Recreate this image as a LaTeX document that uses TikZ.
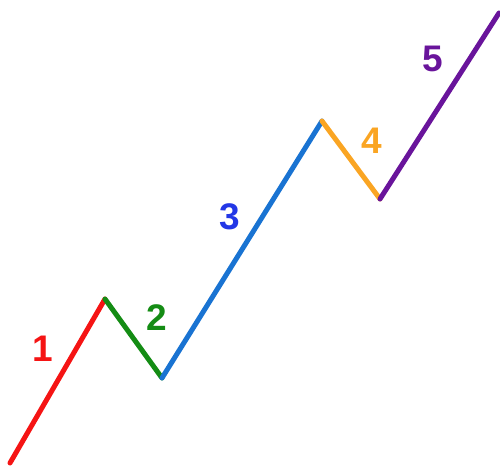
\documentclass[tikz,border=0pt]{standalone}
\usepackage{fontspec}
\setmainfont{Liberation Sans}
\definecolor{wred}{RGB}{245,20,20}
\definecolor{wgreen}{RGB}{20,140,20}
\definecolor{wblue}{RGB}{25,115,210}
\definecolor{wlblue}{RGB}{35,55,230}
\definecolor{worange}{RGB}{250,165,35}
\definecolor{wpurple}{RGB}{105,20,155}
\begin{document}
\begin{tikzpicture}[x=1pt,y=-1pt,
  seg/.style={line width=5pt,line cap=round,line join=round},
  lbl/.style={font=\fontsize{37}{40}\selectfont\bfseries,inner sep=0pt}]
\useasboundingbox (0,0) rectangle (500,466);
\coordinate (p0) at (10,463);
\coordinate (p1) at (105,299);
\coordinate (p2) at (162,378);
\coordinate (p3) at (322,121);
\coordinate (p4) at (380,199);
\coordinate (p5) at (499,13);
\draw[seg,wred] (p0) -- (p1);
\draw[seg,wgreen] (p1) -- (p2);
\draw[seg,wblue] (p2) -- (p3);
\draw[seg,worange] (p3) -- (p4);
\draw[seg,wpurple] (p4) -- (p5);
\node[lbl,text=wred] (l1) at (43,349) {1};
\node[lbl,text=wgreen] (l2) at (157,318) {2};
\node[lbl,text=wlblue] (l3) at (230,217) {3};
\node[lbl,text=worange] (l4) at (372,141) {4};
\node[lbl,text=wpurple] (l5) at (433,59) {5};
\end{tikzpicture}
\end{document}
